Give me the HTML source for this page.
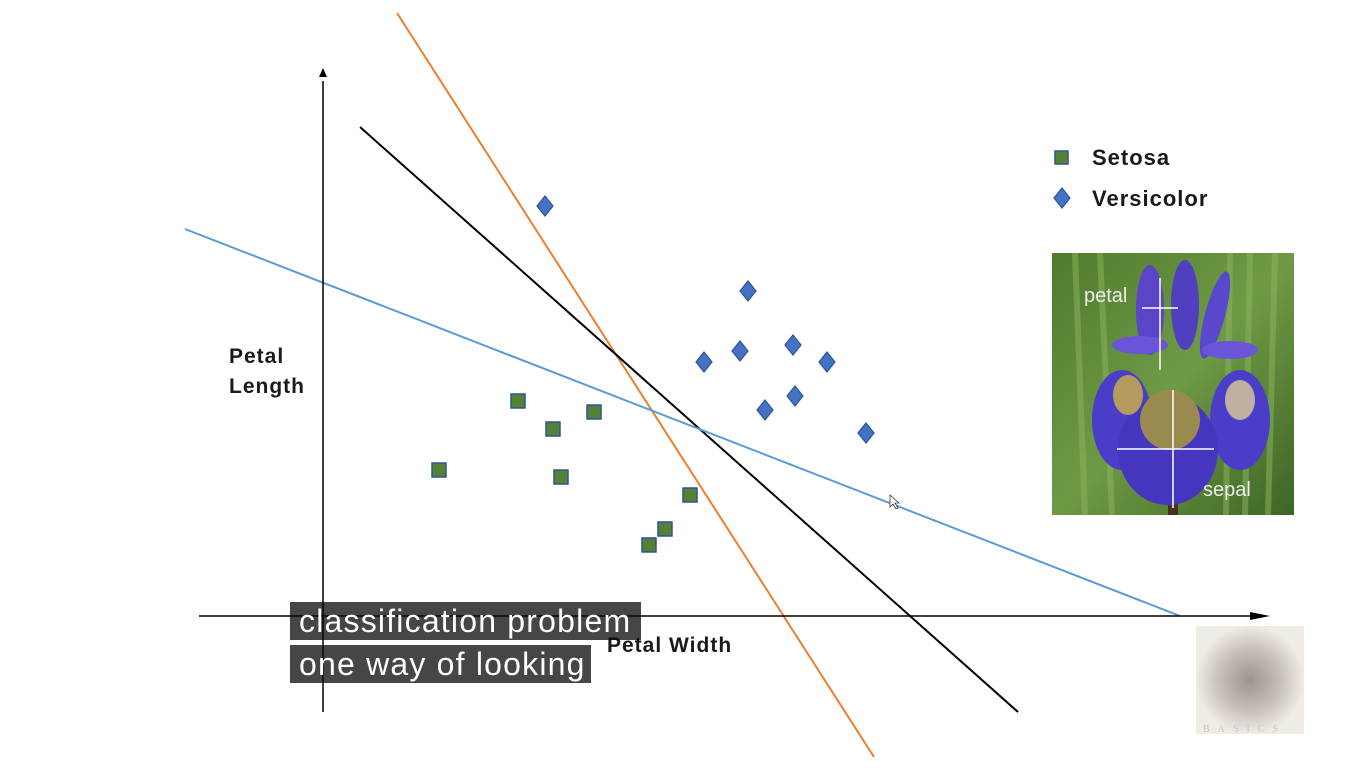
<!DOCTYPE html>
<html><head><meta charset="utf-8"><style>
html,body{margin:0;padding:0;background:#fff;width:1366px;height:768px;overflow:hidden}
svg{display:block}
.cap{position:absolute;background:rgba(8,8,8,0.75);color:#fff;font-family:"Liberation Sans",sans-serif;font-size:32px;letter-spacing:1.2px;line-height:38px;padding:0 9px;white-space:nowrap;box-sizing:border-box}
.lbl{font-family:"Liberation Sans",sans-serif;font-weight:bold;fill:#1a1a1a;letter-spacing:1px}
</style></head><body>
<svg id="chart" width="1366" height="768" xmlns="http://www.w3.org/2000/svg">
<defs>
<linearGradient id="bg" x1="0" y1="0" x2="1" y2="1"><stop offset="0" stop-color="#4f7a2e"/><stop offset="0.5" stop-color="#6f9a45"/><stop offset="1" stop-color="#3d6525"/></linearGradient>
<radialGradient id="blur"><stop offset="0" stop-color="#9a948c"/><stop offset="0.6" stop-color="#c9c3bb"/><stop offset="1" stop-color="#efebe5"/></radialGradient>
</defs>
<g id="lines"></g>
<g id="axes"></g>
<g id="marks"></g>
<text class="lbl" x="229" y="363" font-size="21">Petal</text>
<text class="lbl" x="229" y="393" font-size="21">Length</text>
<text class="lbl" x="607" y="652" font-size="21">Petal Width</text>
<g>
<rect x="1055" y="151" width="13" height="13" fill="#548235" stroke="#2f5597" stroke-width="1.5"/>
<text class="lbl" x="1092" y="165" font-size="22">Setosa</text>
<polygon points="1062,188 1070,198 1062,208 1054,198" fill="#4472c4" stroke="#2f5597" stroke-width="1.2"/>
<text class="lbl" x="1092" y="206" font-size="22">Versicolor</text>
</g>
<g>
<rect x="1052" y="253" width="242" height="262" fill="url(#bg)"/>
<path d="M1075,253 L1085,515 M1100,253 L1112,515 M1250,253 L1245,515 M1275,253 L1268,515 M1230,253 L1226,515" stroke="#8fb560" stroke-width="6" opacity="0.5"/>
<rect x="1168" y="440" width="10" height="75" fill="#4a3020"/>
<ellipse cx="1150" cy="310" rx="14" ry="45" fill="#5a45c8"/>
<ellipse cx="1185" cy="305" rx="14" ry="45" fill="#5040c0"/>
<ellipse cx="1215" cy="315" rx="10" ry="45" fill="#5a48cc" transform="rotate(15 1215 315)"/>
<ellipse cx="1140" cy="345" rx="28" ry="9" fill="#6a55d8"/>
<ellipse cx="1230" cy="350" rx="28" ry="9" fill="#6a55d8"/>
<ellipse cx="1122" cy="420" rx="30" ry="50" fill="#4a3ec8"/>
<ellipse cx="1240" cy="420" rx="30" ry="50" fill="#4a3ec8"/>
<ellipse cx="1168" cy="450" rx="50" ry="55" fill="#4536c0"/>
<ellipse cx="1170" cy="420" rx="30" ry="30" fill="#9a8a50"/>
<ellipse cx="1128" cy="395" rx="15" ry="20" fill="#b59a60"/>
<ellipse cx="1240" cy="400" rx="15" ry="20" fill="#c0b0a0"/>
<path d="M1160,278 V370 M1142,308 H1178 M1173,390 V508 M1117,449 H1214" stroke="#fff" stroke-width="1.5"/>
<text x="1084" y="302" font-family="Liberation Sans, sans-serif" font-size="20" fill="#eee">petal</text>
<text x="1203" y="496" font-family="Liberation Sans, sans-serif" font-size="20" fill="#eee">sepal</text>
</g>
<g>
<rect x="1196" y="626" width="108" height="108" fill="url(#blur)"/>
<text x="1203" y="732" font-family="Liberation Serif, serif" font-size="10" letter-spacing="8" fill="#cfc8c0">BASICS</text>
</g>
<path d="M890,495 L890,507 L893,504 L896,509 L898,508 L895,503 L899,503 Z" fill="#fff" stroke="#333" stroke-width="0.8"/>
</svg>
<div class="cap" style="left:290px;top:602px;width:351px">classification problem</div>
<div class="cap" style="left:290px;top:645px;width:301px">one way of looking</div>
<script>
// data units: 1 unit = 10px from the origin
const setosaX = [11.6, 19.5, 23.0, 27.1, 23.8, 36.7, 34.2, 32.6];
const setosaY = [14.6, 21.5, 18.7, 20.4, 13.9, 12.1, 8.7, 7.1];
const versicolorX = [22.2, 42.5, 38.1, 41.7, 47.0, 50.4, 44.2, 47.2, 54.3];
const versicolorY = [41.0, 32.5, 25.4, 26.5, 27.1, 25.4, 20.6, 22.0, 18.3];
const boundaryNames = ["orange-boundary", "black-boundary", "blue-boundary"];
const boundaryX1 = [7.4, 3.7, -13.8];
const boundaryY1 = [60.3, 48.9, 38.7];
const boundaryX2 = [55.1, 69.5, 85.7];
const boundaryY2 = [-14.1, -9.6, 0];
const boundaryColors = ["#ed7d31", "#000000", "#5b9bd5"];
const ox = 323, oy = 616;
function sx(v){ return ox + v*10; }
function sy(v){ return oy - v*10; }
const NS = "http://www.w3.org/2000/svg";
function mk(tag, attrs, parent){ const e=document.createElementNS(NS,tag); for(const k in attrs) e.setAttribute(k,attrs[k]); parent.appendChild(e); return e; }
const lines=document.getElementById('lines'), axes=document.getElementById('axes'), marks=document.getElementById('marks');
for(let i=0;i<boundaryNames.length;i++){
  const l=mk('line',{x1:sx(boundaryX1[i]),y1:sy(boundaryY1[i]),x2:sx(boundaryX2[i]),y2:sy(boundaryY2[i]),stroke:boundaryColors[i],'stroke-width':2},lines);
  
  
}
const xa=mk('line',{x1:sx(-12.4),y1:sy(0),x2:sx(93.5),y2:sy(0),stroke:'#000','stroke-width':1.5},axes);


const xh=mk('polygon',{points:`${sx(94.7)},${sy(0)} ${sx(93.5)-8},${sy(0)-4} ${sx(93.5)-8},${sy(0)+4}`,fill:'#000'},axes);


const ya=mk('line',{x1:sx(0),y1:sy(-9.6),x2:sx(0),y2:sy(53.5),stroke:'#000','stroke-width':1.5},axes);


const yh=mk('polygon',{points:`${sx(0)},${sy(54.8)} ${sx(0)-4},${sy(54.8)+9} ${sx(0)+4},${sy(54.8)+9}`,fill:'#000'},axes);


for(let i=0;i<setosaX.length;i++){
  const x=sx(setosaX[i]), y=sy(setosaY[i]);
  const r=mk('rect',{x:x-7,y:y-7,width:14,height:14,fill:'#548235',stroke:'#2f5597','stroke-width':1.5},marks);
  
  
}
for(let i=0;i<versicolorX.length;i++){
  const x=sx(versicolorX[i]), y=sy(versicolorY[i]);
  const p=mk('polygon',{points:`${x},${y-10} ${x+8},${y} ${x},${y+10} ${x-8},${y}`,fill:'#4472c4',stroke:'#2f5597','stroke-width':1.2},marks);
  
  
}
</script>
</body></html>
